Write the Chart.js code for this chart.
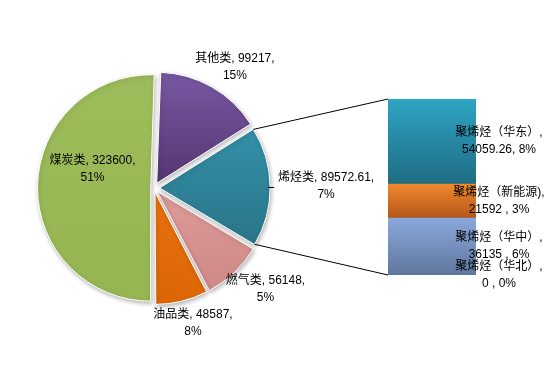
<!DOCTYPE html>
<html>
<head>
<meta charset="utf-8">
<script src="https://cdn.jsdelivr.net/npm/chart.js@4.4.1/dist/chart.umd.min.js"></script>
<style>
  html, body { margin: 0; padding: 0; background: #fff; }
  #wrap { position: relative; width: 555px; height: 367px; }
  #wrap canvas { position: absolute; left: 0; top: 0; }
</style>
</head>
<body>
<div id="wrap">
  <canvas id="pieCanvas" width="555" height="367"></canvas>
  <canvas id="barCanvas" width="555" height="367"></canvas>
</div>
<script>
// pie slices (烯烃类 is split out into the bar)
const pieCategories = ["其他类", "烯烃类", "燃气类", "油品类", "煤炭类"];
const pieValueTexts = ["99217", "89572.61", "56148", "48587", "323600"];
const piePercents = ["15%", "7%", "5%", "8%", "51%"];
const otherValues = [99217, 56148, 48587, 323600];
const splitIndex = 1;

// bar (bottom to top)
const barCategories = ["聚烯烃（华北）", "聚烯烃（华中）", "聚烯烃（新能源)", "聚烯烃（华东）"];
const barValues = [0, 36135, 21592, 54059.26];
const barValueTexts = ["0 ", "36135 ", "21592 ", "54059.26"];
const barPercents = ["0%", "6%", "3%", "8%"];

const barTotal = barValues.reduce((a, b) => a + b, 0);
const pieValues = otherValues.slice();
pieValues.splice(splitIndex, 0, barTotal);

const pieTop = ["#7858a2", "#3390a8", "#dc9b99", "#e8710d", "#9dbd5b"];
const pieBottom = ["#553670", "#2a7589", "#cf8987", "#dc6607", "#95b553"];
const barTop = ["#8aa8dc", "#8aa8dc", "#f0882d", "#2fa4c4"];
const barBottom = ["#5f779e", "#5f779e", "#b5561a", "#1e6c82"];

const FONT = '12px "Liberation Sans", "Noto Sans CJK SC", sans-serif';
const LINE_H = 17;

function pieFill(c) {
  const i = c.dataIndex;
  const chart = c.chart;
  const a = chart.chartArea;
  if (!a || i === undefined) return pieTop[i];
  const cx = (a.left + a.right) / 2, cy = (a.top + a.bottom) / 2, r = 110;
  const total = pieValues.reduce((s, v) => s + v, 0);
  let start = -Math.PI / 2 + chart.options.rotation * Math.PI / 180;
  for (let k = 0; k < i; k++) start += pieValues[k] / total * Math.PI * 2;
  const end = start + pieValues[i] / total * Math.PI * 2;
  let minY = cy, maxY = cy;
  for (let t = 0; t <= 40; t++) {
    const y = cy + Math.sin(start + (end - start) * t / 40) * r;
    minY = Math.min(minY, y); maxY = Math.max(maxY, y);
  }
  const g = chart.ctx.createLinearGradient(0, minY, 0, maxY);
  g.addColorStop(0, pieTop[i]);
  g.addColorStop(1, pieBottom[i]);
  return g;
}

function barFill(c) {
  const i = c.datasetIndex;
  const chart = c.chart;
  const y = chart.scales && chart.scales.y;
  if (!chart.chartArea || !y) return barTop[i];
  let s = 0;
  for (let k = 0; k < i; k++) s += barValues[k];
  const g = chart.ctx.createLinearGradient(0, y.getPixelForValue(s + barValues[i]), 0, y.getPixelForValue(s));
  g.addColorStop(0, barTop[i]);
  g.addColorStop(1, barBottom[i]);
  return g;
}

function drawBlock(ctx, lines, cx, cy) {
  const h = lines.length * LINE_H;
  ctx.textAlign = "center";
  ctx.textBaseline = "middle";
  lines.forEach((t, k) => ctx.fillText(t, cx, cy - h / 2 + LINE_H * (k + 0.5)));
}

function arcShift(arc) {
  const circ = arc.endAngle - arc.startAngle;
  return (arc.options.offset || 0) / 4 * (2 - Math.sin(Math.min(Math.PI, circ)));
}

const shadowPlugin = {
  id: "shadow",
  beforeDatasetsDraw(chart) {
    const ctx = chart.ctx;
    ctx.save();
    ctx.shadowColor = "rgba(0,0,0,0.28)";
    ctx.shadowBlur = 4;
    ctx.shadowOffsetX = 1;
    ctx.shadowOffsetY = 2;
  },
  afterDatasetsDraw(chart) {
    chart.ctx.restore();
  }
};

const pieLabels = {
  id: "pieLabels",
  afterDraw(chart) {
    const ctx = chart.ctx;
    const meta = chart.getDatasetMeta(0);
    ctx.save();
    ctx.font = FONT;
    ctx.fillStyle = "#000";
    ctx.strokeStyle = "#000";
    ctx.lineWidth = 1;
    meta.data.forEach((arc, i) => {
      const lines = [pieCategories[i] + ", " + pieValueTexts[i] + ",", piePercents[i]];
      const w = Math.max(...lines.map(t => ctx.measureText(t).width));
      const h = lines.length * LINE_H;
      const mid = (arc.startAngle + arc.endAngle) / 2;
      const off = arcShift(arc);
      let cx, cy;
      if (arc.endAngle - arc.startAngle > Math.PI) {
        const d = arc.outerRadius * 0.5 + off;
        cx = arc.x + Math.cos(mid) * d;
        cy = arc.y + Math.sin(mid) * d - 18;
      } else {
        const R = arc.outerRadius + off;
        const px = arc.x + Math.cos(mid) * R, py = arc.y + Math.sin(mid) * R;
        const gap = i === splitIndex ? 8 : 6;
        cx = px + Math.cos(mid) * (w / 2 + gap);
        cy = py + Math.sin(mid) * (h / 2 + gap);
        if (i === splitIndex) {
          ctx.beginPath();
          ctx.moveTo(px - 2, Math.round(py) + 0.5);
          ctx.lineTo(cx - w / 2 - 4, Math.round(py) + 0.5);
          ctx.stroke();
        }
      }
      drawBlock(ctx, lines, cx, cy);
    });
    ctx.restore();
  }
};

const pieChart = new Chart(document.getElementById("pieCanvas"), {
  type: "pie",
  data: {
    labels: pieCategories,
    datasets: [{
      data: pieValues,
      backgroundColor: pieFill,
      borderColor: "#fff",
      borderWidth: 1,
      offset: [22, 22, 18, 17, 13],
      radius: 110
    }]
  },
  options: {
    responsive: false,
    animation: false,
    devicePixelRatio: 1,
    rotation: 2,
    layout: { padding: { left: 0, right: 247, top: 9, bottom: 0 } },
    plugins: { legend: { display: false }, tooltip: { enabled: false } }
  },
  plugins: [shadowPlugin, pieLabels]
});

const connectors = {
  id: "connectors",
  beforeDatasetsDraw(chart) {
    const arc = pieChart.getDatasetMeta(0).data[splitIndex];
    const mid = (arc.startAngle + arc.endAngle) / 2;
    const off = arcShift(arc);
    const tx = Math.cos(mid) * off, ty = Math.sin(mid) * off;
    const R = arc.outerRadius;
    const first = chart.getDatasetMeta(0).data[0];
    const last = chart.getDatasetMeta(barValues.length - 1).data[0];
    const left = first.x - first.width / 2;
    const ctx = chart.ctx;
    ctx.save();
    ctx.strokeStyle = "#000";
    ctx.lineWidth = 1;
    ctx.beginPath();
    ctx.moveTo(arc.x + tx + Math.cos(arc.startAngle) * R, arc.y + ty + Math.sin(arc.startAngle) * R);
    ctx.lineTo(left, last.y);
    ctx.moveTo(arc.x + tx + Math.cos(arc.endAngle) * R, arc.y + ty + Math.sin(arc.endAngle) * R);
    ctx.lineTo(left, first.base);
    ctx.stroke();
    ctx.restore();
  }
};

const barLabels = {
  id: "barLabels",
  afterDraw(chart) {
    const ctx = chart.ctx;
    ctx.save();
    ctx.font = FONT;
    ctx.fillStyle = "#000";
    barCategories.forEach((name, i) => {
      const el = chart.getDatasetMeta(i).data[0];
      const lines = [name + ",", barValueTexts[i] + ", " + barPercents[i]];
      drawBlock(ctx, lines, el.x + el.width / 2 + 23, (el.y + el.base) / 2);
    });
    ctx.restore();
  }
};

const barChart = new Chart(document.getElementById("barCanvas"), {
  type: "bar",
  data: {
    labels: ["烯烃类"],
    datasets: barCategories.map((name, i) => ({
      label: name,
      data: [barValues[i]],
      backgroundColor: barFill,
      borderWidth: 0,
      barPercentage: 1,
      categoryPercentage: 1
    }))
  },
  options: {
    responsive: false,
    animation: false,
    devicePixelRatio: 1,
    layout: { padding: { left: 388, right: 79, top: 99, bottom: 92 } },
    scales: {
      x: { stacked: true, display: false },
      y: { stacked: true, display: false, min: 0, max: barTotal }
    },
    plugins: { legend: { display: false }, tooltip: { enabled: false } }
  },
  plugins: [connectors, shadowPlugin, barLabels]
});
</script>
</body>
</html>
